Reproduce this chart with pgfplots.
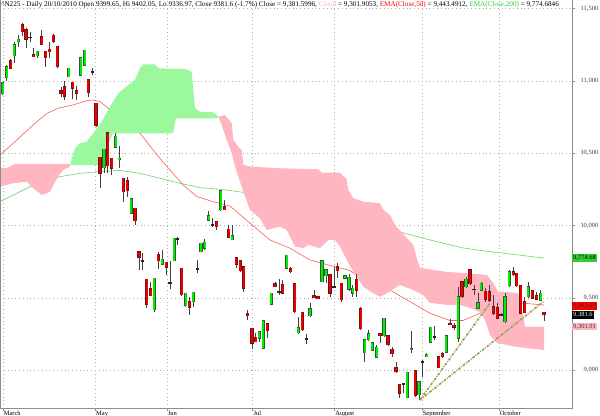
\documentclass[border=0pt]{standalone}
\usepackage{fontspec}
\setmainfont{Liberation Serif}
\usepackage{pgfplots}
\usepackage{pgfplotstable}
\pgfplotsset{compat=1.18}
\usepgfplotslibrary{fillbetween}

\definecolor{upfill}{HTML}{00EE00}
\definecolor{upedge}{HTML}{2F5A2F}
\definecolor{dnfill}{HTML}{EE0000}
\definecolor{dnedge}{HTML}{701010}
\definecolor{wickc}{HTML}{404040}
\definecolor{cloudpink}{HTML}{FFB6C1}
\definecolor{cloudgreen}{HTML}{9CF89C}
\definecolor{emared}{HTML}{FF5A5A}
\definecolor{emagreen}{HTML}{6CD66C}
\definecolor{trendc}{HTML}{9A9A50}
\definecolor{axisgray}{HTML}{8C8C8C}
\definecolor{labgray}{HTML}{3C3C46}
\definecolor{boxgreen}{HTML}{33CC33}

% x = position along the time axis, o h l c = open high low close
\pgfplotstableread{
x o h l c
2.7 10910 10986 10903 10986
6.7 11023 11110 11002 11099
14.3 11175 11272 11122 11249
18.3 11272 11318 11237 11290
37.3 11175 11207 11157 11207
68.7 11030 11088 11027 11088
80.7 11041 11161 11036 11161
84.7 11110 11214 11106 11214
104 10400 10527 10364 10527
115.7 10541 10638 10541 10619
119.3 10455 10550 10396 10465
131.3 10085 10184 10080 10184
154.3 9416 9635 9404 9635
162.3 9734 9831 9734 9767
174.3 9757 9912 9752 9912
185.7 9444 9532 9435 9532
193.3 9473 9538 9439 9538
201 9819 9877 9817 9877
204.7 9843 9905 9831 9884
208.7 10038 10103 10038 10068
220.7 10108 10246 10104 10241
232.3 9900 10004 9900 9928
259.3 9220 9266 9197 9266
263.3 9151 9340 9146 9340
271.3 9456 9532 9451 9532
286.7 9704 9796 9698 9796
298.3 9259 9370 9250 9294
310 9375 9467 9370 9425
322 9610 9755 9610 9755
326 9651 9693 9605 9693
345 9637 9658 9635 9651
349 9559 9665 9550 9642
352.7 9532 9589 9508 9566
364.7 9121 9209 9058 9209
368.7 9209 9278 9204 9250
372.3 9139 9197 9135 9190
376.7 9089 9174 9089 9158
384 9238 9359 9231 9359
407.3 8810 8985 8805 8985
411.3 9140 9273 9117 9148
419 8828 8920 8794 8920
426.7 9093 9121 9093 9110
430.7 9193 9298 9188 9296
446.3 9124 9236 9121 9236
458.2 9222 9573 9197 9509
466 9577 9646 9566 9628
478 9428 9536 9423 9467
481.3 9554 9608 9554 9601
505 9335 9532 9328 9508
509.3 9582 9693 9577 9681
528.3 9508 9612 9497 9577
540.7 9485 9554 9481 9532
}\upcandles

\pgfplotstableread{
x o h l c
10.7 11140 11152 11081 11088
22.3 11387 11403 11311 11341
26 11353 11364 11226 11288
33.3 11180 11228 11166 11168
41.7 11306 11353 11249 11249
45.7 11207 11207 11095 11161
49.3 11219 11267 11161 11202
53.3 11316 11325 11261 11272
57.3 11237 11237 11088 11099
61 10931 10958 10889 10915
64.3 10960 11000 10868 10896
72.7 10991 10991 10873 10949
76.7 10931 10965 10868 10915
88.3 11007 11007 10887 10922
96 10846 10846 10685 10691
100 10472 10474 10258 10361
107.7 10642 10642 10364 10412
111.7 10465 10465 10350 10396
123.3 10327 10327 10161 10234
127.3 10310 10336 10200 10241
135 10119 10119 10004 10032
139 9819 9819 9693 9780
146.7 9630 9630 9428 9456
150.7 9561 9612 9515 9515
158.3 9801 9819 9700 9757
166.3 9746 9746 9658 9711
181.7 9704 9704 9513 9520
189.3 9473 9508 9381 9435
216.7 10025 10025 9969 9992
224.7 10130 10177 10108 10108
228.7 9974 10004 9912 9919
236.3 9778 9778 9704 9734
240.3 9755 9755 9681 9688
243.7 9716 9716 9543 9566
247.7 9393 9416 9347 9380
252 9290 9290 9146 9186
255.7 9227 9259 9197 9197
267.3 9321 9321 9220 9271
275 9596 9612 9573 9577
282.7 9589 9624 9532 9532
290.7 9700 9716 9674 9681
294.7 9596 9596 9393 9404
302.3 9400 9400 9273 9278
314 9518 9554 9501 9501
318 9508 9508 9492 9492
330 9658 9658 9504 9532
337.3 9716 9739 9635 9688
341.3 9601 9601 9473 9485
356.7 9628 9665 9508 9554
360.7 9423 9439 9278 9285
380 9255 9255 9186 9236
388 9236 9236 9167 9174
392 9146 9162 9089 9112
396 9020 9058 8982 8989
399.7 8897 8897 8805 8840
415.3 8994 8994 8816 8821
438.7 9093 9098 9013 9017
442.3 9117 9128 9082 9093
450 9321 9352 9312 9317
454 9312 9324 9278 9296
462 9612 9612 9497 9508
470 9696 9698 9589 9596
485.3 9547 9566 9473 9490
489.3 9543 9589 9473 9485
493.3 9439 9520 9381 9393
497.3 9432 9462 9359 9359
513.3 9681 9711 9651 9658
516.7 9670 9670 9577 9582
520.7 9582 9582 9393 9393
524.7 9473 9508 9393 9397
532.3 9550 9554 9490 9497
536.7 9513 9543 9485 9490
544 9399.65 9402.05 9336.97 9381.6
}\dncandles

\pgfplotstableread{
x o h l c
30 11303 11341 11267 11299
92.3 11064 11090 11041 11060
142.7 9757 9810 9693 9753
170 9607 9755 9561 9603
177.7 9907 9923 9866 9903
197.3 9702 9762 9670 9698
212.7 10006 10050 9992 10002
279 9545 9628 9520 9541
306.3 9218 9250 9181 9214
334 9575 9716 9566 9571
403.3 8904 8906 8840 8900
422.7 9060 9070 8955 9056
434.7 9229 9305 9209 9225
474 9561 9589 9520 9557
501 9383 9395 9375 9379
}\dojis

% #1 table, #2 edge colour, #3 body colour
\newcommand{\candles}[3]{%
  \addplot[draw=none, mark=none, forget plot,
    error bars/.cd, y dir=both, y explicit, error mark=none,
    error bar style={line width=0.7bp, draw=wickc}]
    table[x=x, y expr={(\thisrow{h}+\thisrow{l})/2},
          y error expr={(\thisrow{h}-\thisrow{l})/2}] {#1};
  \addplot[draw=none, mark=none, forget plot,
    error bars/.cd, y dir=both, y explicit, error mark=none,
    error bar style={line width=3.3bp, draw=#2}]
    table[x=x, y expr={(\thisrow{o}+\thisrow{c})/2},
          y error expr={abs(\thisrow{o}-\thisrow{c})/2+3.5}] {#1};
  \addplot[draw=none, mark=none, forget plot,
    error bars/.cd, y dir=both, y explicit, error mark=none,
    error bar style={line width=2.2bp, draw=#3}]
    table[x=x, y expr={(\thisrow{o}+\thisrow{c})/2},
          y error expr={max(abs(\thisrow{o}-\thisrow{c})/2-0.5,0)}] {#1};
}

\begin{document}
\begin{tikzpicture}
\begin{axis}[
  name=ax, scale only axis, width=572bp, height=408.7bp,
  xmin=0, xmax=572, ymin=8733, ymax=11560,
  axis x line*=bottom, axis y line*=right,
  axis line style={axisgray, line width=0.8bp},
  xtick={3,95.4,167,252.7,334.6,422,499},
  xticklabels={March,May,Jun,Jul,August,September,October},
  ytick={9000,9500,10000,10500,11000,11500},
  scaled y ticks=false,
  tick align=outside, major tick length=2.5bp,
  tick style={axisgray, line width=0.6bp},
  grid=major,
  grid style={axisgray!70, line width=0.5bp, dash pattern=on 0.6bp off 3.2bp},
  /pgf/number format/assume math mode=true,
  /pgf/number format/1000 sep={,},
  yticklabel style={font=\fontsize{6.5}{7}\selectfont, text=labgray,
    anchor=east, inner sep=0pt, xshift=24bp},
  xticklabel style={font=\fontsize{6.5}{7}\selectfont, text=black,
    anchor=north west, inner sep=0pt, xshift=0.6bp},
  clip=false,
]
% EMA(Close,200)
\addplot[emagreen, line width=0.6bp] coordinates {
 (0,10165) (20,10234) (40,10303) (60,10338) (80,10361) (100,10374)
 (120,10381) (140,10361) (160,10327) (180,10292) (200,10262) (220,10251)
 (243,10230) (270,10184) (300,10128) (330,10073) (360,10025) (393,9969)
 (430,9900) (463,9845) (480,9828) (510,9803) (544,9775)};
% EMA(Close,50)
\addplot[emared, line width=0.6bp] coordinates {
 (0,10488) (15,10580) (33,10695) (47,10776) (58,10811) (73,10834)
 (87,10864) (93,10868) (100,10857) (108,10813) (120,10744) (140,10638)
 (157,10488) (170,10384) (183,10281) (197,10200) (213,10165) (230,10135)
 (250,10016) (270,9900) (290,9843) (310,9762) (330,9724) (350,9689)
 (370,9589) (390,9554) (410,9473) (430,9393) (450,9343) (463,9343)
 (480,9393) (500,9439) (520,9465) (544,9450)};

% cloud, pink part before the green one
\addplot[draw=none, name path=p1t, forget plot] coordinates {
 (0,10398) (7,10398) (15,10426) (70,10426)};
\addplot[draw=none, name path=p1b, forget plot] coordinates {
 (0,10269) (13,10292) (27,10303) (33,10258) (42,10211) (50,10234)
 (58,10338) (63,10384) (70,10407)};
\addplot[cloudpink, forget plot] fill between[of=p1t and p1b, on layer=main];
% green part
\addplot[draw=none, name path=gt, forget plot] coordinates {
 (70,10419) (75,10534) (80,10569) (86.7,10580) (93.3,10638) (101.7,10718)
 (110,10822) (118.3,10915) (128.3,10972) (135,11007) (140,11088)
 (143.3,11115) (155,11115) (158.3,11088) (175,11083) (185,11083)
 (191.7,11064) (195,10811) (200,10787) (213.3,10783) (218.3,10753)};
\addplot[draw=none, name path=gb, forget plot] coordinates {
 (70,10419) (100,10419) (110,10592) (113,10638) (173,10638) (176,10742)
 (217,10742) (218.3,10753)};
\addplot[cloudgreen, forget plot] fill between[of=gt and gb, on layer=main];
% pink part after it
\addplot[draw=none, name path=p2t, forget plot] coordinates {
 (218.3,10753) (225,10765) (231.7,10707) (233.3,10592) (238.3,10545)
 (241.7,10523) (243.3,10419) (251.7,10407) (280,10396) (318.3,10389)
 (321.7,10366) (340,10366) (346.7,10320) (348.3,10246) (353.3,10188)
 (363.3,10165) (380,10154) (383.3,10108) (390,10073) (395,10004)
 (405,9928) (413.3,9866) (416.7,9776) (420,9707) (447,9679) (463,9672)
 (487,9658) (493,9603) (498,9543) (518,9534) (522,9416) (525,9301)
 (544,9301)};
\addplot[draw=none, name path=p2b, forget plot] coordinates {
 (218.3,10753) (221.7,10696) (226.7,10592) (231.7,10500) (235,10407)
 (240,10303) (243.3,10234) (250,10108) (260,10050) (266.7,9969)
 (273.3,9981) (280,9992) (286.7,9969) (295,9854) (303.3,9843)
 (308.3,9866) (320,9843) (328.3,9900) (335,9900) (340,9854)
 (346.7,9762) (353.3,9681) (363.3,9577) (373.3,9531) (380,9508)
 (386.7,9531) (400,9589) (413,9554) (423,9520) (430,9465) (447,9451)
 (460,9451) (470,9430) (480,9402) (485,9347) (490,9243) (497,9188)
 (517,9160) (544,9139)};
\addplot[cloudpink, forget plot] fill between[of=p2t and p2b, on layer=main];

\candles{\upcandles}{upedge}{upfill}
\candles{\dncandles}{dnedge}{dnfill}
\candles{\dojis}{black!85}{black!85}

% trend lines
\addplot[trendc, line width=1.6bp, dash pattern=on 2.6bp off 1.3bp on 0.9bp off 1.3bp]
  coordinates {(420,8794) (490,9464)};
\addplot[trendc, line width=1.6bp, dash pattern=on 2.6bp off 1.3bp on 0.9bp off 1.3bp]
  coordinates {(420,8794) (543.3,9473)};

\draw[axisgray, line width=0.8bp] (rel axis cs:0,0) -- (rel axis cs:0,1);

\node[anchor=north west, inner sep=0pt, font=\fontsize{7.2}{8}\selectfont]
  at (rel axis cs:0,1) [xshift=1bp, yshift=-1.5bp]
  {\textasciicircum N225 - Daily 20/10/2010 Open 9399.65, Hi 9402.05, Lo 9336.97, Close 9381.6 (-1.7\%) Close = 9,381.5996, \textcolor{cloudpink}{Cloud} = 9,301.9053, \textcolor{red}{EMA(Close,50)} = 9,443.4912, \textcolor{boxgreen}{EMA(Close,200)} = 9,774.6846};

\node[anchor=west, inner sep=1bp, fill=boxgreen, text=black, font=\fontsize{6.5}{7}\selectfont]
  at (axis cs:572,9774.68) {9,774.68};
\node[anchor=west, inner sep=1bp, fill=red, text=black!80, font=\fontsize{6.5}{7}\selectfont]
  at (axis cs:572,9443.49) {9,443.49};
\node[anchor=west, inner sep=1bp, fill=black, text=white, font=\fontsize{6.5}{7}\selectfont]
  at (axis cs:572,9381.6) {9,381.6};
\node[anchor=west, inner sep=1bp, fill=cloudpink, text=black!80, font=\fontsize{6.5}{7}\selectfont]
  at (axis cs:572,9301.91) {9,301.91};
\end{axis}
\pgfresetboundingbox
\path[use as bounding box] ([yshift=-7.3bp]ax.south west) rectangle ([xshift=28bp]ax.north east);
\end{tikzpicture}
\end{document}
